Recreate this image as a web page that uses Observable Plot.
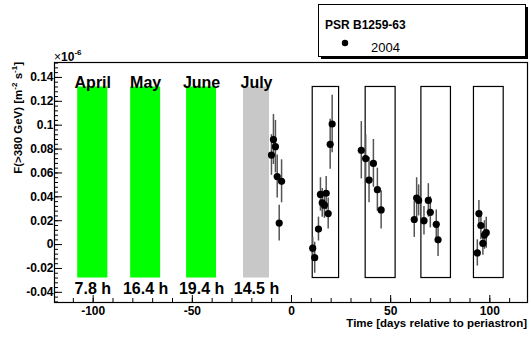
<!DOCTYPE html>
<html><head><meta charset="utf-8">
<script src="https://cdn.jsdelivr.net/npm/d3@7"></script>
<script src="https://cdn.jsdelivr.net/npm/@observablehq/plot@0.6"></script>
<style>body{margin:0;background:#fff} svg{font-family:"Liberation Sans",Arial,sans-serif}</style>
</head><body><div id="chart"></div>
<script>
// Observation days (relative to periastron), flux (x1e-6 m^-2 s^-1), errors
const days    = [-10.1, -9.1, -8.1, -7.2, -6.2, -5.0,
                 10.7, 11.7, 13.6, 14.6, 15.5, 16.6, 17.5, 18.5, 19.5, 20.5,
                 35.2, 37.4, 39.1, 41.3, 43.3, 45.2,
                 61.9, 63.1, 64.1, 66.8, 69.0, 70.0, 73.0, 73.9,
                 93.7, 94.5, 95.5, 96.5, 97.3, 98.2];
const flux    = [0.075, 0.088, 0.082, 0.057, 0.018, 0.053,
                 -0.003, -0.011, 0.013, 0.042, 0.035, 0.033, 0.043, 0.026, 0.084, 0.101,
                 0.079, 0.072, 0.054, 0.068, 0.046, 0.029,
                 0.021, 0.039, 0.037, 0.020, 0.037, 0.027, 0.017, 0.004,
                 -0.007, 0.026, 0.016, 0.001, 0.008, 0.010];
const fluxErr = [0.017, 0.021, 0.022, 0.018, 0.015, 0.018,
                 0.009, 0.013, 0.010, 0.014, 0.012, 0.011, 0.014, 0.013, 0.021, 0.024,
                 0.024, 0.020, 0.019, 0.020, 0.018, 0.016,
                 0.015, 0.017, 0.013, 0.012, 0.014, 0.013, 0.012, 0.014,
                 0.011, 0.011, 0.012, 0.010, 0.012, 0.013];

// 2004 observation periods
const monthNames  = ["April", "May", "June", "July"];
const monthStart  = [-107.8, -81.1, -52.9, -24.2];
const monthEnd    = [-92.6, -66.0, -37.8, -11.1];
const monthHours  = ["7.8 h", "16.4 h", "19.4 h", "14.5 h"];
const monthColors = ["#00ff00", "#00ff00", "#00ff00", "#c8c8c8"];
// future windows (empty boxes)
const boxStart = [10.7, 37.4, 65.5, 92.0];
const boxEnd   = [24.0, 52.5, 80.4, 107.0];
const bandLow = -0.028, bandHigh = 0.132;

// axis ticks
const xMajor = [-100, -50, 0, 50, 100];
const xMinor = d3.range(-11, 12).map(i => i * 10);
const yMajor = [-0.04, -0.02, 0, 0.02, 0.04, 0.06, 0.08, 0.1, 0.12, 0.14];
const yMinor = d3.range(-12, 39).map(i => +(i * 0.004).toFixed(3));

const W = 531, H = 337, mL = 54, mR = 4, mT = 62, mB = 35;
const pw = W - mL - mR, ph = H - mT - mB;

const points = days.map((d, i) => ({day: d, flux: flux[i], err: fluxErr[i]}));
const months = monthNames.map((m, i) => ({name: m, x1: monthStart[i], x2: monthEnd[i], hours: monthHours[i], color: monthColors[i]}));
const boxes = boxStart.map((s, i) => ({x1: s, x2: boxEnd[i]}));

const plot = Plot.plot({
  width: W, height: H,
  marginLeft: mL, marginRight: mR, marginTop: mT, marginBottom: mB,
  x: {domain: [-119.5, 119]},
  y: {domain: [-0.0485, 0.1525]},
  color: {type: "identity"},
  style: {fontFamily: "Liberation Sans, Arial, sans-serif", background: "white", color: "black"},
  marks: [
    Plot.rect(months, {x1: "x1", x2: "x2", y1: () => bandLow, y2: () => bandHigh, fill: "color"}),
    Plot.rect(boxes, {x1: "x1", x2: "x2", y1: () => bandLow, y2: () => bandHigh, fill: "none", stroke: "black", strokeWidth: 1.2}),
    Plot.text(months, {x: d => (d.x1 + d.x2) / 2, y: () => bandHigh, text: "name", lineAnchor: "bottom", dy: 1, fontSize: 16, fontWeight: "bold", fill: "black"}),
    Plot.text(months, {x: d => (d.x1 + d.x2) / 2, y: () => bandLow, text: "hours", lineAnchor: "top", dy: 5, fontSize: 16, fontWeight: "bold", fill: "black"}),
    Plot.ruleX(points, {x: "day", y1: d => d.flux - d.err, y2: d => d.flux + d.err, stroke: "#555", strokeWidth: 1.5}),
    Plot.dot(points, {x: "day", y: "flux", r: 3.6, fill: "black"}),
    Plot.tickX(xMajor, {x: d => d, insetTop: ph - 7, stroke: "black"}),
    Plot.tickX(xMinor, {x: d => d, insetTop: ph - 4, stroke: "black"}),
    Plot.tickY(yMajor, {y: d => d, insetRight: pw - 8, stroke: "black"}),
    Plot.tickY(yMinor, {y: d => d, insetRight: pw - 4, stroke: "black"}),
    Plot.axisX(xMajor, {tickSize: 0, tickPadding: 4, tickFormat: d => `${d}`, fontSize: 12, fontWeight: "bold", label: null}),
    Plot.axisY(yMajor, {tickSize: 0, tickPadding: 1, tickFormat: d => String(+d.toFixed(2)), fontSize: 12, fontWeight: "bold", label: null}),
    Plot.frame({stroke: "black", strokeWidth: 1.2})
  ]
});

const svg = d3.select(plot);
// y-axis title
const yt = svg.append("text")
  .attr("transform", `translate(22,${mT}) rotate(-90)`)
  .attr("text-anchor", "end").attr("font-size", 11.5).attr("font-weight", "bold").attr("fill", "black");
yt.append("tspan").text("F(>380 GeV) [m");
yt.append("tspan").attr("font-size", 8).attr("dy", -5).text("-2");
yt.append("tspan").attr("dy", 5).text(" s");
yt.append("tspan").attr("font-size", 8).attr("dy", -5).text("-1");
yt.append("tspan").attr("dy", 5).text("]");
// exponent label
const ex = svg.append("text").attr("x", 54).attr("y", 61).attr("text-anchor", "start")
  .attr("font-size", 12).attr("font-weight", "bold").attr("fill", "black");
ex.append("tspan").attr("font-weight", "normal").text("×");
ex.append("tspan").text("10");
ex.append("tspan").attr("font-size", 8).attr("dy", -6).text("-6");
// x-axis title
svg.append("text").attr("x", W - 4).attr("y", 327).attr("text-anchor", "end")
  .attr("font-size", 11.5).attr("font-weight", "bold").attr("fill", "black")
  .text("Time [days relative to periastron]");
// legend
const lg = svg.append("g");
lg.append("rect").attr("x", 321).attr("y", 7).attr("width", 207).attr("height", 52).attr("fill", "black");
lg.append("rect").attr("x", 318.5).attr("y", 4.5).attr("width", 207).attr("height", 52)
  .attr("fill", "white").attr("stroke", "black").attr("stroke-width", 1);
lg.append("text").attr("x", 325).attr("y", 29).attr("text-anchor", "start")
  .attr("font-size", 12).attr("font-weight", "bold").attr("fill", "black").text("PSR B1259-63");
lg.append("circle").attr("cx", 345).attr("cy", 43).attr("r", 3.2).attr("fill", "black");
lg.append("text").attr("x", 371).attr("y", 52).attr("text-anchor", "start")
  .attr("font-size", 13).attr("fill", "black").text("2004");

document.getElementById("chart").appendChild(plot);
</script>
</body></html>
